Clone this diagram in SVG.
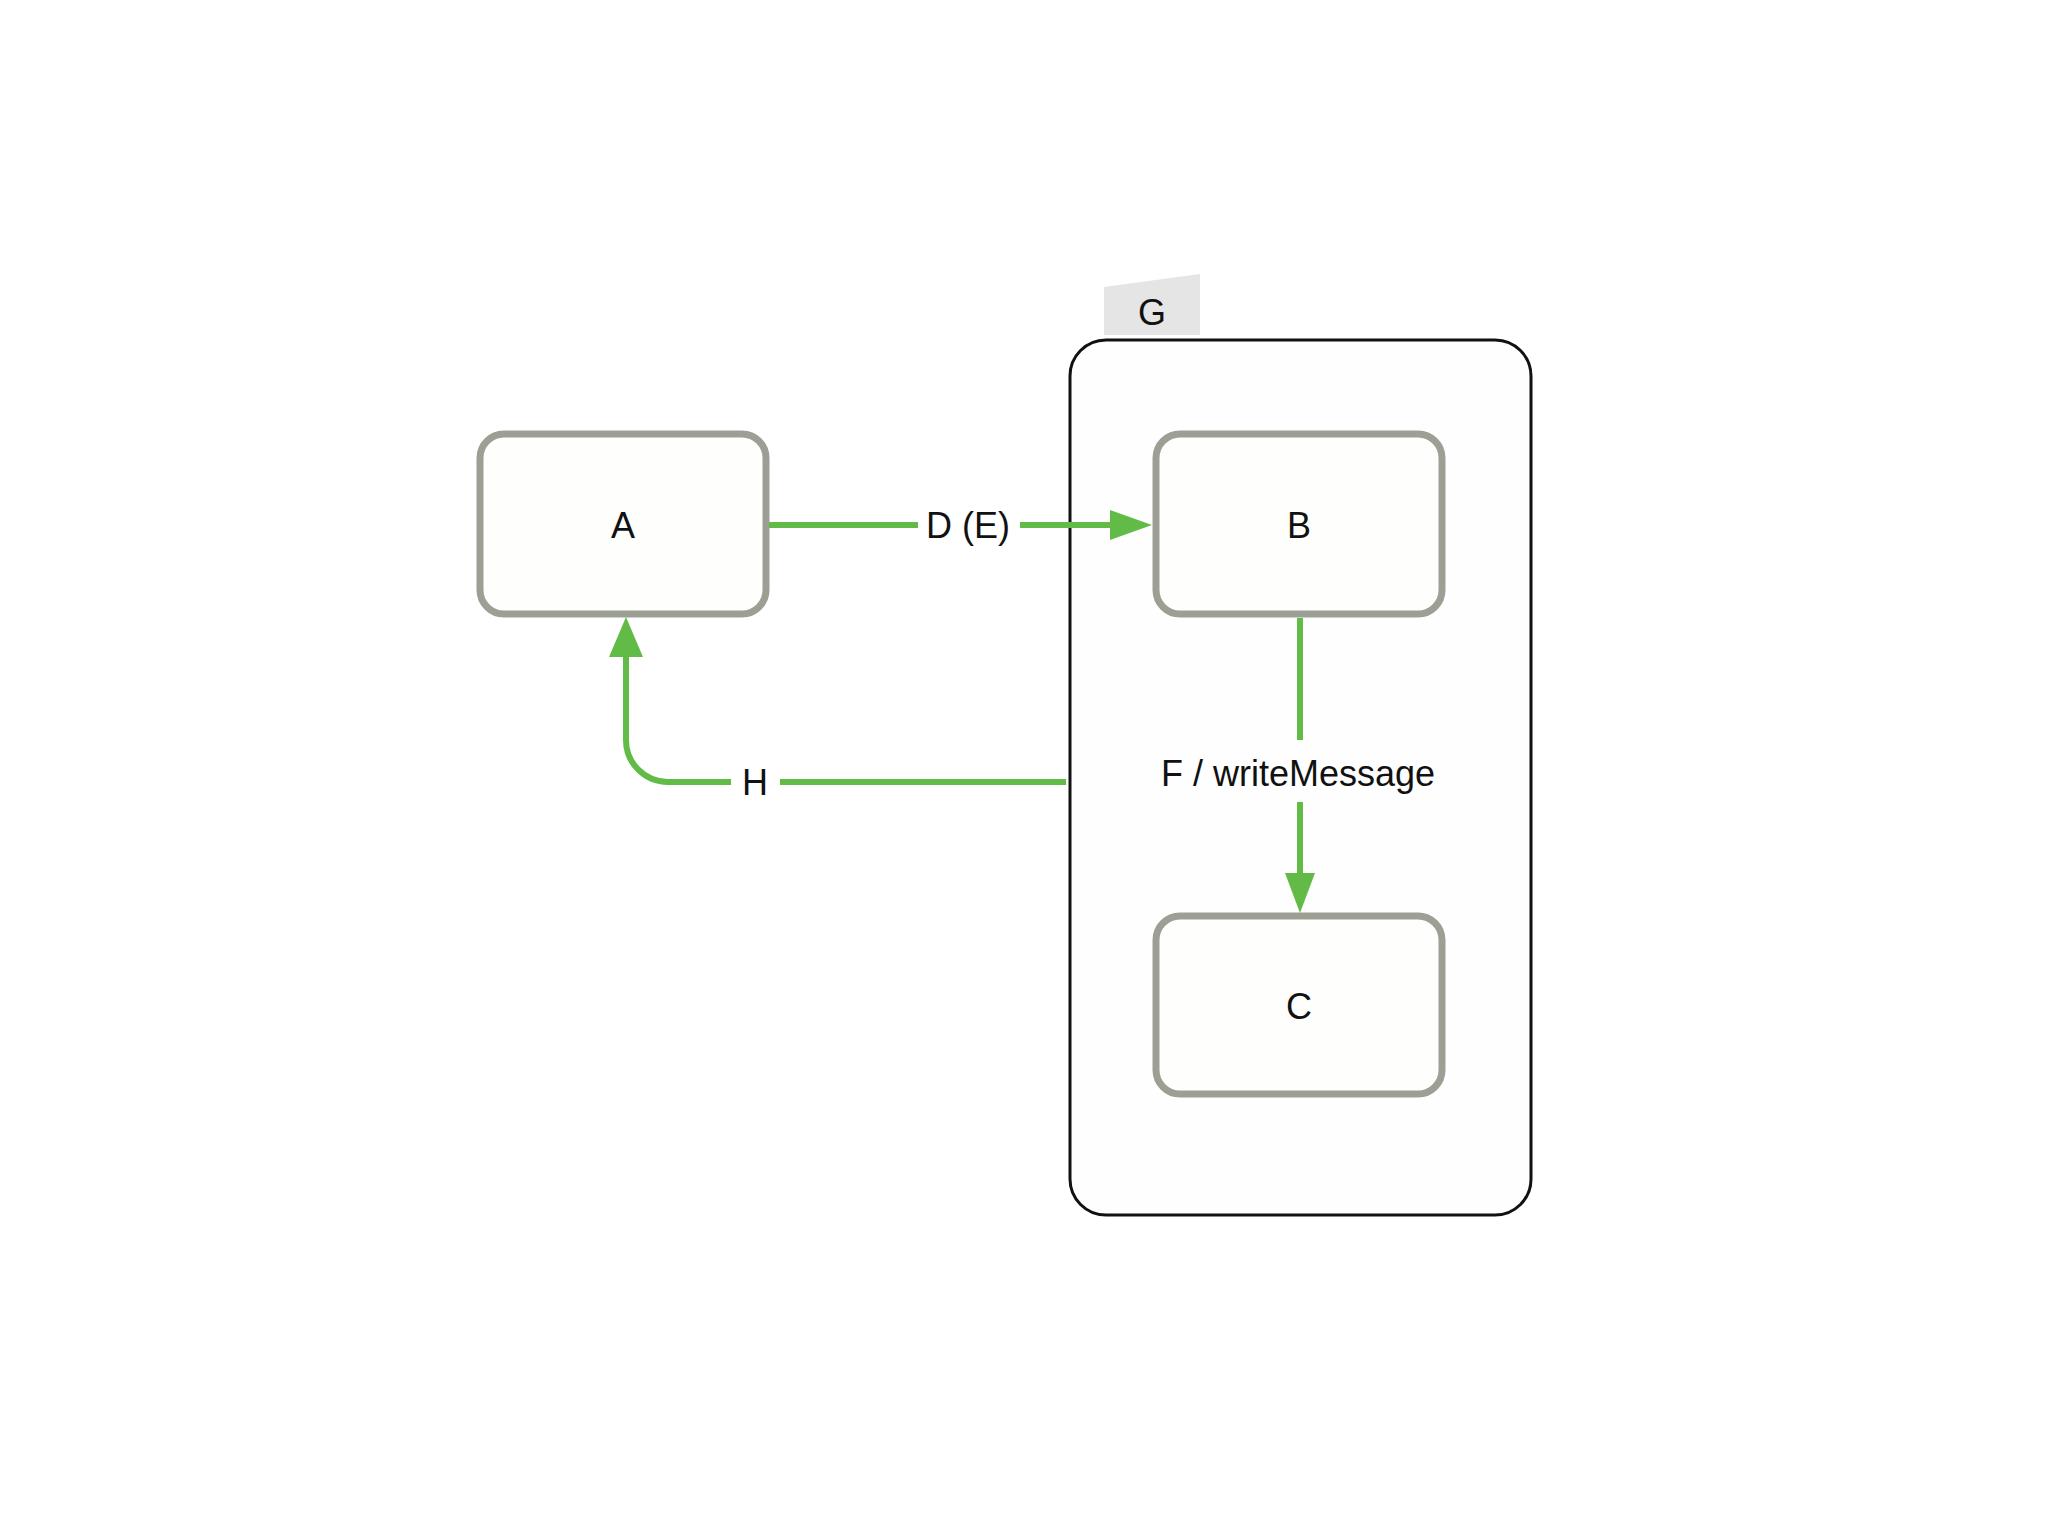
<svg xmlns="http://www.w3.org/2000/svg" width="2048" height="1536" viewBox="0 0 2048 1536">
<style>
.state{fill:#fefefd;stroke:#9c9f94;stroke-width:7}
.lbl{font-family:"Liberation Sans",Arial,sans-serif;font-size:36px;fill:#111;text-anchor:middle}
.edge{fill:none;stroke:#63bb47;stroke-width:6}
.head{fill:#63bb47}
</style>
<rect width="2048" height="1536" fill="#ffffff"/>
<g id="G">
<path d="M1104 287 L1200 274 L1200 335 L1104 335 Z" fill="#e5e5e5"/>
<rect x="1070" y="340" width="461" height="875" rx="36" ry="36" fill="#fefefe" stroke="#111" stroke-width="3"/>
<text class="lbl" x="1152" y="325">G</text>
</g>
<g id="A">
<rect class="state" x="480" y="434" width="286" height="180" rx="24" ry="24"/>
<text class="lbl" x="623" y="538">A</text>
</g>
<g id="B">
<rect class="state" x="1156" y="434" width="286" height="180" rx="24" ry="24"/>
<text class="lbl" x="1299" y="538">B</text>
</g>
<g id="C">
<rect class="state" x="1156" y="916" width="286" height="178" rx="24" ry="24"/>
<text class="lbl" x="1299" y="1019">C</text>
</g>
<g id="connectors">
<path class="edge" d="M769 525 H918 M1020 525 H1112"/>
<polygon class="head" points="1110,510 1152,525 1110,540"/>
<text class="lbl" x="968" y="538">D (E)</text>
<path class="edge" d="M1300 618 V740 M1300 802 V876"/>
<polygon class="head" points="1285,873 1315,873 1300,913"/>
<text class="lbl" x="1298" y="786">F / writeMessage</text>
<path class="edge" d="M1066 782 H780 M731 782 H668 A42 42 0 0 1 626 740 V654"/>
<polygon class="head" points="609,657 643,657 626,617"/>
<text class="lbl" x="755" y="795">H</text>
</g>
</svg>
